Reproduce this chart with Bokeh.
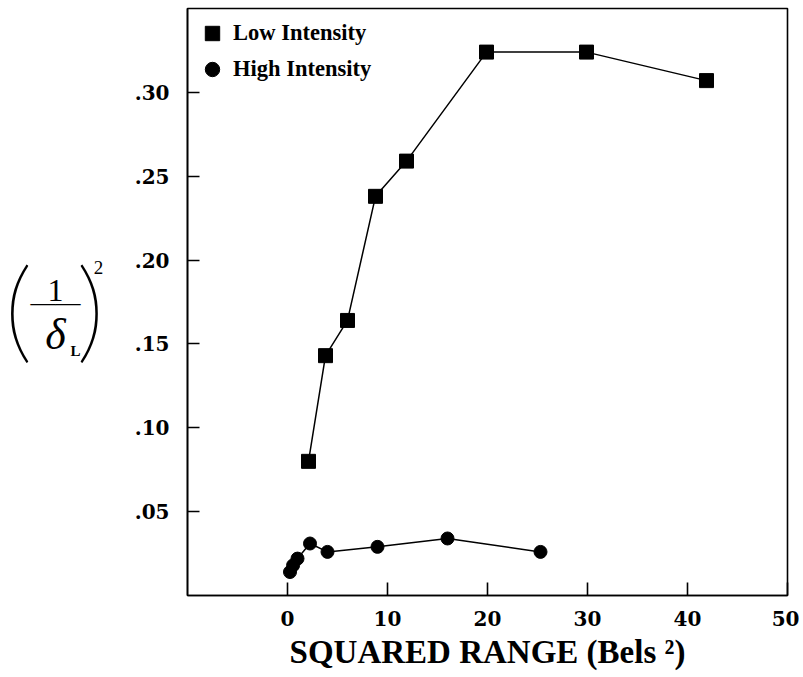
from bokeh.plotting import figure
from bokeh.layouts import row
from bokeh.models import (FixedTicker, CustomJSTickFormatter, Label, Legend, LegendItem)
from bokeh.embed import file_html
from bokeh.resources import INLINE

# ---- data ----
low_x = [2.1, 3.8, 6.0, 8.8, 11.9, 19.9, 29.9, 41.9]
low_y = [0.080, 0.143, 0.164, 0.238, 0.259, 0.324, 0.324, 0.307]
high_x = [0.25, 0.56, 1.0, 2.25, 4.0, 9.0, 16.0, 25.3]
high_y = [0.014, 0.018, 0.022, 0.031, 0.026, 0.029, 0.034, 0.026]
x_ticks = [0, 10, 20, 30, 40, 50]
y_ticks = [0.05, 0.10, 0.15, 0.20, 0.25, 0.30]
x_min, x_max = -10, 50
y_min, y_max = 0, 0.35

H = 676
LW = 120            # width of the left panel holding the y title
BL, BR, BT, BB = 67, 12, 8, 81
FW = 600
W = BL + FW + BR

p = figure(width=W, height=H, x_range=(x_min, x_max), y_range=(y_min, y_max),
           output_backend="svg", toolbar_location=None,
           min_border_left=BL, min_border_right=BR, min_border_top=BT, min_border_bottom=BB)
p.background_fill_color = "white"
p.border_fill_color = "white"
p.outline_line_color = "black"
p.outline_line_width = 1.6
p.grid.visible = False

for ax in (p.xaxis[0], p.yaxis[0]):
    ax.axis_line_color = "black"
    ax.axis_line_width = 1.6
    ax.major_tick_line_color = "black"
    ax.major_tick_line_width = 1.6
    ax.major_tick_out = 0
    ax.minor_tick_line_color = None
    ax.major_label_text_font = "DejaVu Serif"
    ax.major_label_text_font_style = "bold"
    ax.major_label_text_font_size = "20px"
    ax.major_label_text_color = "black"

p.xaxis.ticker = FixedTicker(ticks=x_ticks)
p.xaxis.major_tick_in = 13
p.xaxis.major_label_standoff = 15
p.xaxis.axis_label = "SQUARED RANGE (Bels \u00b2)"
p.xaxis.axis_label_text_font = "Liberation Serif"
p.xaxis.axis_label_text_font_style = "bold"
p.xaxis.axis_label_text_font_size = "33px"
p.xaxis.axis_label_text_color = "black"
p.xaxis.axis_label_standoff = 5
p.yaxis.ticker = FixedTicker(ticks=y_ticks)
p.yaxis.major_tick_in = 12
p.yaxis.major_label_standoff = 18
p.yaxis.formatter = CustomJSTickFormatter(code="return tick.toFixed(2).replace(/^0/, '');")

# ---- series ----
p.line(low_x, low_y, line_color="black", line_width=1.5)
p.line(high_x, high_y, line_color="black", line_width=1.5)
sq = p.scatter(low_x, low_y, marker="square", size=14, fill_color="black", line_color="black")
ci = p.scatter(high_x, high_y, marker="circle", size=13, fill_color="black", line_color="black")

legend = Legend(items=[LegendItem(label="Low Intensity", renderers=[sq]),
                       LegendItem(label="High Intensity", renderers=[ci])],
                location="top_left", margin=7, padding=0, spacing=0,
                glyph_width=36, glyph_height=36, label_height=36, label_standoff=3,
                border_line_color=None, background_fill_alpha=0)
legend.label_text_font = "Liberation Serif"
legend.label_text_font_style = "bold"
legend.label_text_font_size = "22.5px"
legend.label_text_color = "black"
p.add_layout(legend)

# ---- left panel with the y title (1/δ_L)^2 ----
q = figure(width=LW, height=H, x_range=(0, LW), y_range=(0, H),
           output_backend="svg", toolbar_location=None,
           min_border_left=0, min_border_right=0, min_border_top=0, min_border_bottom=0)
q.axis.visible = False
q.grid.visible = False
q.outline_line_color = None
q.background_fill_color = "white"
q.border_fill_color = "white"

SHIFT = 28
def lab(px, py, t, size, style="normal", font="Liberation Serif"):
    q.add_layout(Label(x=px, y=H - py - SHIFT, text=t, text_align="center", text_baseline="middle",
                       text_font=font, text_font_style=style, text_font_size=size,
                       text_color="black"))

PAREN_FONT = "'Lato Thin', 'Lato Hairline', 'Liberation Serif'"
lab(18, 314, "(", "112px", font=PAREN_FONT)
lab(90, 314, ")", "112px", font=PAREN_FONT)
lab(55, 297, "1", "32px")
lab(55, 311, "\u2014\u2014", "25px")
lab(55, 347, "\u03b4", "44px", "italic")
lab(75, 367, "L", "15px", "bold")
lab(98, 270, "2", "19px")

layout = row(q, p)
open("out.html", "w").write(file_html(layout, INLINE))
